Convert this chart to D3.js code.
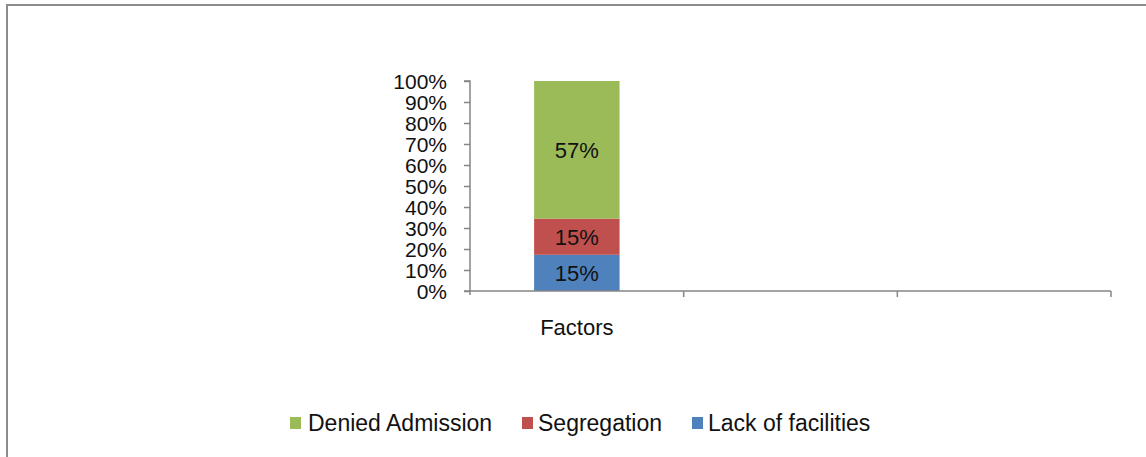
<!DOCTYPE html>
<html>
<head>
<meta charset="utf-8">
<script src="https://cdn.jsdelivr.net/npm/d3@7"></script>
<style>
  html, body { margin: 0; padding: 0; background: #fff; }
  svg { display: block; font-family: "Liberation Sans", Arial, sans-serif; }
</style>
</head>
<body>
<svg id="chart" width="1146" height="457"></svg>
<script>
// categories on the x axis (only the first one has data)
const categories = ['Factors', 'c2', 'c3'];
const categoryLabels = ['Factors', '', ''];

// series, bottom to top
const seriesNames  = ['Lack of facilities', 'Segregation', 'Denied Admission'];
const seriesValues = [15, 15, 57];          // value for "Factors"
const seriesColors = ['#4F81BD', '#C0504D', '#9BBB59'];

const yTicks = d3.range(0, 1.0001, 0.1);

// legend order as shown
const legendOrder = ['Denied Admission', 'Segregation', 'Lack of facilities'];

const svg = d3.select('#chart');

// outer frame (top + left only, as in the picture)
svg.append('line').attr('x1', 6).attr('x2', 1146).attr('y1', 5).attr('y2', 5)
  .attr('stroke', '#8c8c8c').attr('stroke-width', 2);
svg.append('line').attr('x1', 7).attr('x2', 7).attr('y1', 4).attr('y2', 457)
  .attr('stroke', '#8c8c8c').attr('stroke-width', 2);

const plot = { left: 470, right: 1111, top: 81, bottom: 291 };

const x = d3.scaleBand().domain(categories).range([plot.left, plot.right])
  .paddingInner(0).paddingOuter(0);
const y = d3.scaleLinear().domain([0, 1]).range([plot.bottom, plot.top]);

// normalise to 100%
const total = d3.sum(seriesValues);
let acc = 0;
const stacks = seriesValues.map((v, i) => {
  const s = { name: seriesNames[i], value: v, y0: acc / total, y1: (acc + v) / total, color: seriesColors[i] };
  acc += v;
  return s;
});

const barW = x.bandwidth() * 0.4;
const cx = x('Factors') + x.bandwidth() / 2;

svg.append('g').selectAll('rect')
  .data(stacks)
  .join('rect')
  .attr('x', cx - barW / 2)
  .attr('width', barW)
  .attr('y', d => y(d.y1))
  .attr('height', d => y(d.y0) - y(d.y1))
  .attr('fill', d => d.color);

svg.append('g').selectAll('text')
  .data(stacks)
  .join('text')
  .attr('x', cx)
  .attr('y', d => (y(d.y0) + y(d.y1)) / 2)
  .attr('dy', '0.36em')
  .attr('text-anchor', 'middle')
  .attr('font-size', 22)
  .attr('fill', '#111')
  .text(d => d.value + '%');

// y axis
const yAxis = svg.append('g').attr('transform', `translate(${plot.left},0)`)
  .call(d3.axisLeft(y).tickValues(yTicks).tickFormat(d3.format('.0%')).tickSize(6).tickPadding(17));
yAxis.select('.domain').attr('stroke', '#868686').attr('stroke-width', 1.5)
  .attr('d', `M-6,${plot.top}H0V${plot.bottom + 4}`);
yAxis.selectAll('.tick line').attr('stroke', '#868686').attr('stroke-width', 1.5);
yAxis.selectAll('.tick text').attr('font-size', 21).attr('fill', '#111')
  .attr('dy', '0.36em')
  .attr('font-family', '"Liberation Sans", Arial, sans-serif');

// x axis
const xAxis = svg.append('g').attr('transform', `translate(0,${plot.bottom})`);
xAxis.append('line').attr('x1', plot.left - 6).attr('x2', plot.right)
  .attr('stroke', '#868686').attr('stroke-width', 1.5);
const xEdges = categories.map(c => x(c) + x.bandwidth());
xAxis.selectAll('.xt').data(xEdges).join('line')
  .attr('x1', d => d).attr('x2', d => d).attr('y1', 0).attr('y2', 6)
  .attr('stroke', '#868686').attr('stroke-width', 1.5);
xAxis.selectAll('.xl').data(categories).join('text')
  .attr('x', d => x(d) + x.bandwidth() / 2)
  .attr('y', 44)
  .attr('text-anchor', 'middle')
  .attr('font-size', 22)
  .attr('fill', '#111')
  .text((d, i) => categoryLabels[i]);

// legend
const legendSwatchX = [290, 522, 692];
const legendTextX = [308, 538, 708];
const legend = svg.append('g');
legendOrder.forEach((name, i) => {
  const idx = seriesNames.indexOf(name);
  legend.append('rect').attr('x', legendSwatchX[i]).attr('y', 417).attr('width', 11).attr('height', 12)
    .attr('fill', seriesColors[idx]);
  legend.append('text').attr('x', legendTextX[i]).attr('y', 431)
    .attr('font-size', 23).attr('fill', '#111')
    .text(name);
});
</script>
</body>
</html>
